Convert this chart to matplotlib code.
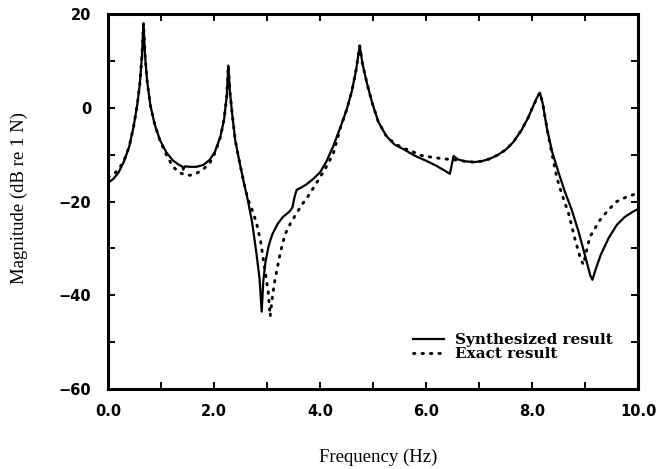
import matplotlib
matplotlib.use("Agg")
import matplotlib.pyplot as plt
from matplotlib.ticker import MultipleLocator

# ---- data ----
freq_syn = [0.00, 0.10, 0.20, 0.30, 0.40, 0.48, 0.55, 0.60, 0.64, 0.67, 0.70, 0.74, 0.80,
            0.88, 0.98, 1.10, 1.22, 1.34, 1.40, 1.42, 1.45, 1.55, 1.67, 1.80, 1.92, 2.02,
            2.12, 2.19, 2.24, 2.27, 2.30, 2.34, 2.40, 2.48, 2.56, 2.64, 2.72, 2.80, 2.86,
            2.90, 2.93, 2.97, 3.03, 3.10, 3.20, 3.30, 3.42, 3.48, 3.52, 3.56, 3.65, 3.75,
            3.88, 4.00, 4.12, 4.25, 4.38, 4.50, 4.60, 4.68, 4.75, 4.80, 4.88, 4.98, 5.10,
            5.25, 5.40, 5.60, 5.80, 6.00, 6.20, 6.35, 6.45, 6.48, 6.52, 6.60, 6.72, 6.90,
            7.05, 7.20, 7.35, 7.50, 7.65, 7.80, 7.92, 8.02, 8.10, 8.15, 8.20, 8.28, 8.38,
            8.50, 8.62, 8.75, 8.88, 9.00, 9.10, 9.14, 9.20, 9.30, 9.45, 9.60, 9.75, 9.90,
            10.00]
mag_syn = [-16.0, -15.2, -13.8, -11.5, -8.3, -4.2, 0.5, 5.0, 11.0, 18.0, 11.0, 5.5, 0.5,
           -3.5, -6.9, -9.5, -11.2, -12.2, -12.5, -13.2, -12.5, -12.6, -12.6, -12.2, -11.1, -9.3,
           -6.2, -2.5, 2.4, 9.0, 3.5, -1.0, -6.9, -11.5, -15.8, -19.8, -24.5, -31.0, -36.5,
           -43.5, -37.0, -33.0, -29.5, -27.0, -24.8, -23.3, -22.2, -21.3, -19.0, -17.5, -17.0, -16.3,
           -15.1, -13.8, -11.5, -8.2, -4.3, -0.5, 3.5, 8.0, 13.2, 9.5, 5.5, 1.2, -3.0,
           -6.0, -7.8, -9.0, -10.3, -11.3, -12.4, -13.4, -14.1, -12.5, -10.3, -11.0, -11.4, -11.6,
           -11.4, -10.9, -10.1, -9.0, -7.3, -4.8, -2.3, 0.3, 2.3, 3.2, 1.0, -4.3, -9.4,
           -13.8, -17.9, -21.8, -26.5, -31.5, -35.8, -36.7, -34.5, -31.3, -27.7, -25.0, -23.3, -22.2,
           -21.6]

freq_exact = [0.00, 0.10, 0.20, 0.30, 0.40, 0.48, 0.55, 0.60, 0.64, 0.67, 0.70, 0.74, 0.80,
              0.88, 0.98, 1.10, 1.22, 1.34, 1.45, 1.55, 1.67, 1.80, 1.92, 2.02, 2.12, 2.19,
              2.24, 2.27, 2.30, 2.34, 2.40, 2.48, 2.56, 2.64, 2.72, 2.80, 2.88, 2.96, 3.02,
              3.06, 3.10, 3.15, 3.25, 3.34, 3.45, 3.56, 3.65, 3.75, 3.87, 3.97, 4.10, 4.25,
              4.38, 4.50, 4.60, 4.68, 4.75, 4.80, 4.88, 4.98, 5.10, 5.25, 5.40, 5.60, 5.70,
              5.82, 5.95, 6.08, 6.20, 6.33, 6.45, 6.60, 6.72, 6.90, 7.05, 7.20, 7.35, 7.50,
              7.65, 7.80, 7.92, 8.02, 8.10, 8.15, 8.20, 8.30, 8.38, 8.47, 8.58, 8.69, 8.81,
              8.91, 8.97, 9.03, 9.09, 9.19, 9.28, 9.44, 9.60, 9.79, 10.00]
mag_exact = [-14.8, -14.2, -13.2, -11.3, -8.3, -4.2, 0.5, 5.0, 11.0, 18.0, 11.0, 5.5, 0.5,
             -3.5, -7.0, -10.0, -12.5, -13.8, -14.3, -14.4, -14.0, -13.1, -11.8, -9.6, -6.3, -2.5,
             2.4, 9.0, 3.5, -1.0, -6.9, -11.5, -15.8, -19.5, -21.8, -24.5, -28.5, -34.6, -39.0,
             -44.5, -40.5, -36.7, -31.0, -27.0, -24.5, -22.5, -20.8, -19.3, -17.2, -15.4, -13.0, -9.8,
             -4.5, -0.5, 3.5, 8.0, 13.2, 9.5, 5.5, 1.2, -3.0, -6.0, -7.6, -8.8, -9.0,
             -9.8, -10.3, -10.5, -10.7, -10.9, -11.0, -11.2, -11.4, -11.6, -11.4, -10.9, -10.1, -9.0,
             -7.3, -4.8, -2.3, 0.3, 2.3, 3.2, 1.0, -5.5, -10.0, -15.0, -19.0, -22.5, -28.0,
             -32.0, -33.5, -30.5, -27.6, -25.7, -24.0, -21.8, -20.0, -19.0, -18.2]

series_labels = ["Synthesized result", "Exact result"]
x_tick_values = [0, 2, 4, 6, 8, 10]
x_tick_labels = ["0.0", "2.0", "4.0", "6.0", "8.0", "10.0"]
y_tick_values = [20, 0, -20, -40, -60]
y_tick_labels = ["20", "0", "\u221220", "\u221240", "\u221260"]

# ---- figure ----
fig = plt.figure(figsize=(6.62, 4.69), dpi=100)
ax = fig.add_axes([108 / 662, 1 - 389 / 469, 530 / 662, 375 / 469])

ax.plot(freq_syn, mag_syn, color="black", lw=1.6, solid_joinstyle="round",
        label=series_labels[0])
ax.plot(freq_exact, mag_exact, color="black", lw=2.1, linestyle=(0, (0.5, 2.4)),
        dash_capstyle="round", label=series_labels[1])

ax.set_xlim(0, 10)
ax.set_ylim(-60, 20)

for s in ax.spines.values():
    s.set_linewidth(2.2)

ax.set_xticks(x_tick_values)
ax.set_xticklabels(x_tick_labels)
ax.set_yticks(y_tick_values)
ax.set_yticklabels(y_tick_labels)
ax.xaxis.set_minor_locator(MultipleLocator(1))
ax.yaxis.set_minor_locator(MultipleLocator(10))
ax.tick_params(which="both", direction="in", top=True, right=True, width=1.4, length=5)
ax.tick_params(axis="x", which="major", pad=11)
ax.tick_params(axis="y", which="major", pad=12)
for lab in ax.get_xticklabels() + ax.get_yticklabels():
    lab.set_fontfamily("DejaVu Sans")
    lab.set_fontweight("bold")
    lab.set_fontsize(10.5)

ax.set_xlabel("Frequency (Hz)", fontfamily="Liberation Serif", fontsize=13.5)
ax.set_ylabel("Magnitude (dB re 1 N)", fontfamily="Liberation Serif", fontsize=13.5)
ax.xaxis.set_label_coords(0.51, (389 - 449) / 375)
ax.yaxis.set_label_coords((28 - 108) / 530, 0.51)

leg = ax.legend(loc="lower left", bbox_to_anchor=(413 / 662, 1 - 361 / 469),
                bbox_transform=fig.transFigure, frameon=False, borderpad=0,
                borderaxespad=0, handlelength=2.0, handletextpad=0.75, labelspacing=0.0,
                prop={"family": "DejaVu Serif", "weight": "bold", "size": 11})

fig.savefig("out.png", dpi=100)
